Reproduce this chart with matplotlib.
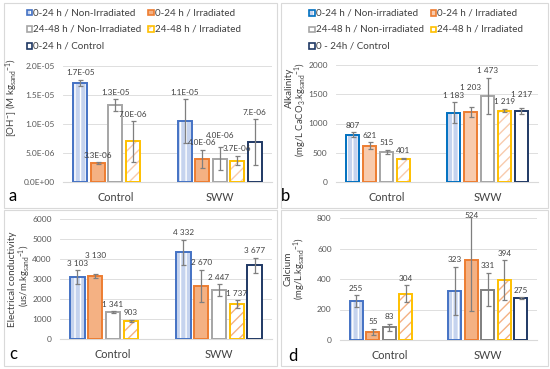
import numpy as np
import matplotlib
matplotlib.use("Agg")
import matplotlib.pyplot as plt
from matplotlib.patches import Rectangle

plt.rcParams['font.family'] = ['Lato', 'DejaVu Sans']
plt.rcParams['mathtext.fontset'] = 'custom'
plt.rcParams['mathtext.rm'] = 'Lato'
plt.rcParams['mathtext.it'] = 'Lato:italic'
plt.rcParams['hatch.linewidth'] = 1.0

categories = ["Control", "SWW"]
nan = np.nan

# Panel a: [OH-]
oh_vals = [[1.71e-5, 1.05e-5], [3.3e-6, 4.0e-6], [1.33e-5, 4.0e-6], [7.0e-6, 3.7e-6], [nan, 6.9e-6]]
oh_errs = [[0.05e-5, 3.8e-6], [0.15e-6, 1.6e-6], [1.0e-6, 2.0e-6], [3.5e-6, 0.8e-6], [nan, 3.9e-6]]
oh_labels = [["1.7E-05", "1.1E-05"], ["3.3E-06", "4.0E-06"], ["1.3E-05", "4.0E-06"], ["7.0E-06", "3.7E-06"], [None, "7.E-06"]]

# Panel b: Alkalinity
alk_vals = [[807, 1183], [621, 1203], [515, 1473], [401, 1219], [nan, 1217]]
alk_errs = [[45, 180], [55, 85], [40, 310], [12, 30], [nan, 55]]
alk_labels = [["807", "1 183"], ["621", "1 203"], ["515", "1 473"], ["401", "1 219"], [None, "1 217"]]

# Panel c: Electrical conductivity
ec_vals = [[3103, 4332], [3130, 2670], [1341, 2447], [903, 1737], [nan, 3677]]
ec_errs = [[330, 620], [100, 800], [60, 280], [50, 200], [nan, 380]]
ec_labels = [["3 103", "4 332"], ["3 130", "2 670"], ["1 341", "2 447"], ["903", "1 737"], [None, "3 677"]]

# Panel d: Calcium
ca_vals = [[255, 323], [55, 524], [83, 331], [304, 394], [nan, 275]]
ca_errs = [[40, 157], [20, 332], [25, 110], [55, 130], [nan, 5]]
ca_labels = [["255", "323"], ["55", "524"], ["83", "331"], ["304", "394"], [None, "275"]]

legend_a = ["0-24 h / Non-Irradiated", "0-24 h / Irradiated", "24-48 h / Non-Irradiated",
            "24-48 h / Irradiated", "0-24 h / Control"]
legend_b = ["0-24 h / Non-irradiated", "0-24 h / Irradiated", "24-48 h / Non-irradiated",
            "24-48 h / Irradiated", "0 - 24h / Control"]

W, H = 550, 369
fig = plt.figure(figsize=(5.5, 3.69), dpi=100)
TXT = '#404040'
TICK = '#595959'
GRID = '#D9D9D9'


def fx(x):
    return x / W


def fy(y):
    return 1 - y / H


def axes_px(x0, x1, ytop, ybot):
    return fig.add_axes([fx(x0), fy(ybot), (x1 - x0) / W, (ybot - ytop) / H])


def styles(variant):
    if variant == 'b':
        return [
            dict(face='#C5D3EE', hatch='|||', hcol='white', edge='#0070C0'),
            dict(face='#F8CBAD', hatch=None, hcol='#F8CBAD', edge='#ED7D31'),
            dict(face='white', hatch=None, hcol='white', edge='#A5A5A5'),
            dict(face='white', hatch='///', hcol='#F8CBAD', edge='#FFC000'),
            dict(face='white', hatch=None, hcol='white', edge='#1F3864'),
        ]
    hatch4 = '#F4B183' if variant in ('c', 'd') else '#F8CBAD'
    gray = '#7F7F7F' if variant == 'd' else '#A5A5A5'
    return [
        dict(face='#C5D3EE', hatch='|||', hcol='white', edge='#4472C4'),
        dict(face='#F4B183', hatch=None, hcol='#F4B183', edge='#ED7D31'),
        dict(face='white', hatch=None, hcol='white', edge=gray),
        dict(face='white', hatch='///', hcol=hatch4, edge='#FFC000'),
        dict(face='white', hatch=None, hcol='white', edge='#1F3864'),
    ]


label_groups = []


def draw_panel(ax, vals, errs, labels, ylim, yticks, fmt, variant):
    st = styles(variant)
    x = np.arange(len(categories))
    slot = 0.1675
    bw = 0.134
    groups = [[] for _ in categories]
    for i in range(5):
        s = st[i]
        pos = x + (i - 2) * slot
        v = np.array(vals[i], dtype=float)
        e = np.array(errs[i], dtype=float)
        ax.bar(pos, v, bw, color=s['face'], hatch=s['hatch'], edgecolor=s['hcol'],
               linewidth=0, zorder=2)
        ax.bar(pos, v, bw, fill=False, edgecolor=s['edge'], linewidth=1.4, zorder=3)
        ax.errorbar(pos, v, yerr=e, fmt='none', ecolor='#7F7F7F', elinewidth=0.9,
                    capsize=1.8, capthick=0.9, zorder=4)
        for j in range(len(categories)):
            if labels[i][j] is None:
                continue
            top = v[j] + e[j]
            if top > ylim[1]:
                ann = ax.annotate(labels[i][j], (pos[j], ylim[1]), xytext=(0, 1.5),
                                  textcoords='offset points', ha='center', va='center',
                                  fontsize=5.9, color=TXT, annotation_clip=False, zorder=5)
            else:
                ann = ax.annotate(labels[i][j], (pos[j], top), xytext=(0, 2.5),
                                  textcoords='offset points', ha='center', va='bottom',
                                  fontsize=5.9, color=TXT, annotation_clip=False, zorder=5)
            groups[j].append(ann)
    label_groups.extend(groups)
    ax.set_xlim(-0.5, 1.5)
    ax.set_ylim(*ylim)
    ax.set_yticks(yticks)
    ax.set_yticklabels([fmt(t) for t in yticks])
    ax.set_xticks(x)
    ax.set_xticklabels(categories)
    ax.tick_params(axis='y', length=0, labelsize=6, labelcolor=TICK, pad=6)
    ax.tick_params(axis='x', length=0, labelsize=7.8, labelcolor=TXT, pad=7)
    for sp in ['top', 'right', 'left']:
        ax.spines[sp].set_visible(False)
    ax.spines['bottom'].set_color(GRID)
    ax.spines['bottom'].set_linewidth(0.8)
    ax.yaxis.grid(True, color=GRID, linewidth=0.6, zorder=0)
    ax.set_axisbelow(True)
    ax.patch.set_alpha(0)


def legend_px(entries, variant, cols_x, rows_y):
    st = styles(variant)
    sz = 5.5
    for i, lab in enumerate(entries):
        cx = cols_x[i % 2]
        cy = rows_y[i // 2]
        s = st[i]
        r1 = Rectangle((fx(cx - sz / 2), fy(cy + sz / 2)), sz / W, sz / H, transform=fig.transFigure,
                       facecolor=s['face'], hatch=s['hatch'], edgecolor=s['hcol'], linewidth=0)
        r2 = Rectangle((fx(cx - sz / 2), fy(cy + sz / 2)), sz / W, sz / H, transform=fig.transFigure,
                       fill=False, edgecolor=s['edge'], linewidth=1.2)
        fig.patches.extend([r1, r2])
        fig.text(fx(cx + sz / 2 + 1), fy(cy), lab, ha='left', va='center', fontsize=7.1, color=TXT)


# panel borders
for (x0, y0, x1, y1) in [(4, 3, 277, 208), (281, 3, 548, 208), (4, 210, 277, 366), (281, 210, 548, 366)]:
    fig.patches.append(Rectangle((fx(x0), fy(y1)), (x1 - x0) / W, (y1 - y0) / H,
                                 transform=fig.transFigure, fill=False, edgecolor='#D9D9D9', linewidth=0.8))

sci = lambda t: "{:.1E}".format(t)
integer = lambda t: "{:d}".format(int(t))

ax_a = axes_px(63, 272, 66, 182)
draw_panel(ax_a, oh_vals, oh_errs, oh_labels, (0, 2.0e-5), [0, 5e-6, 1e-5, 1.5e-5, 2e-5], sci, 'a')
ax_b = axes_px(336, 538, 65, 182)
draw_panel(ax_b, alk_vals, alk_errs, alk_labels, (0, 2000), [0, 500, 1000, 1500, 2000], integer, 'b')
ax_c = axes_px(60, 272, 219, 339)
draw_panel(ax_c, ec_vals, ec_errs, ec_labels, (0, 6000), list(range(0, 6001, 1000)), integer, 'c')
ax_d = axes_px(340, 537, 218, 340)
draw_panel(ax_d, ca_vals, ca_errs, ca_labels, (0, 800), [0, 200, 400, 600, 800], integer, 'd')

legend_px(legend_a, 'a', (29.5, 151), (12.5, 29, 46))
legend_px(legend_b, 'b', (312, 433.5), (13, 29.5, 46))

# y labels
fig.text(fx(12), fy(98), r"[OH$^{-}$] (M kg$_{\rm sand}$$^{-1}$)", rotation=90, ha='center', va='center',
         fontsize=7, color=TXT)
fig.text(fx(289), fy(88), "Alkalinity", rotation=90, ha='center', va='center', fontsize=7.1, color=TXT)
fig.text(fx(301), fy(110), r"(mg/L CaCO$_3$.kg$_{\rm sand}$$^{-1}$)", rotation=90, ha='center', va='center',
         fontsize=6.8, color=TXT)
fig.text(fx(13), fy(279), "Electrical conductivity", rotation=90, ha='center', va='center', fontsize=7.1, color=TXT)
fig.text(fx(25), fy(276), r"(us/m.kg$_{\rm sand}$$^{-1}$)", rotation=90, ha='center', va='center',
         fontsize=6.8, color=TXT)
fig.text(fx(288), fy(269), "Calcium", rotation=90, ha='center', va='center', fontsize=7.1, color=TXT)
fig.text(fx(300), fy(269), r"(mg/L.kg$_{\rm sand}$$^{-1}$)", rotation=90, ha='center', va='center',
         fontsize=6.8, color=TXT)

# panel letters
for lab, (px, py) in zip("abcd", [(13, 196), (286, 196), (13, 354), (293, 356)]):
    fig.text(fx(px), fy(py), lab, ha='center', va='center', fontsize=12, color='black')

# stagger data labels that collide with the previous one in the same group
fig.canvas.draw()
renderer = fig.canvas.get_renderer()
for grp in label_groups:
    for k in range(1, len(grp)):
        prev = grp[k - 1].get_window_extent(renderer)
        cur = grp[k].get_window_extent(renderer)
        if cur.x0 < prev.x1 and cur.y0 < prev.y1 and cur.y1 > prev.y0:
            shift_px = prev.y1 - cur.y0 + 0.5
            ox, oy = grp[k].xyann
            grp[k].xyann = (ox, oy + shift_px * 72 / fig.dpi)

fig.savefig("out.png", dpi=100)
